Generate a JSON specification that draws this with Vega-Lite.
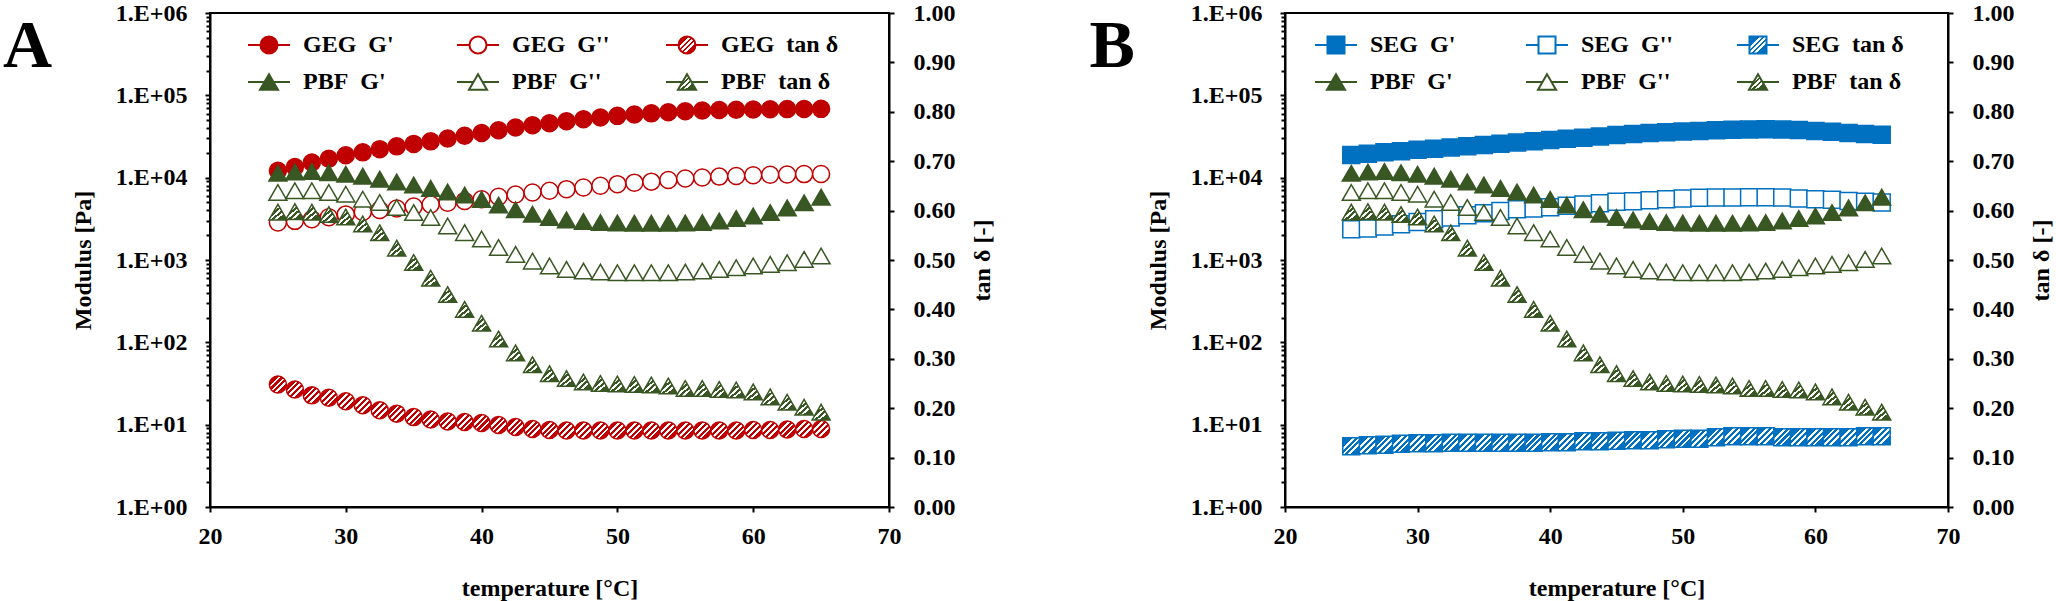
{
  "$schema": "https://vega.github.io/schema/vega-lite/v6.json",
  "background": "white",
  "padding": {"left": 2, "top": 0, "right": 0, "bottom": 0},
  "spacing": 93,
  "datasets": {
    "rheo": [
      {"t": 25, "GEG_G1": 12100, "GEG_G2": 2850, "GEG_T": 0.248, "PBF_G1": 11300, "PBF_G2": 6610, "PBF_T": 0.597, "SEG_G1": 18800, "SEG_G2": 2360, "SEG_T": 0.123},
      {"t": 26.25, "GEG_G1": 13500, "GEG_G2": 2990, "GEG_T": 0.238, "PBF_G1": 11700, "PBF_G2": 6930, "PBF_T": 0.598, "SEG_G1": 19500, "SEG_G2": 2405, "SEG_T": 0.125},
      {"t": 27.5, "GEG_G1": 15300, "GEG_G2": 3130, "GEG_T": 0.226, "PBF_G1": 11900, "PBF_G2": 6930, "PBF_T": 0.597, "SEG_G1": 20300, "SEG_G2": 2545, "SEG_T": 0.126},
      {"t": 28.75, "GEG_G1": 17000, "GEG_G2": 3300, "GEG_T": 0.221, "PBF_G1": 11500, "PBF_G2": 6610, "PBF_T": 0.592, "SEG_G1": 21000, "SEG_G2": 2720, "SEG_T": 0.128},
      {"t": 30, "GEG_G1": 18700, "GEG_G2": 3580, "GEG_T": 0.214, "PBF_G1": 11000, "PBF_G2": 6300, "PBF_T": 0.587, "SEG_G1": 21800, "SEG_G2": 2900, "SEG_T": 0.129},
      {"t": 31.25, "GEG_G1": 20300, "GEG_G2": 3830, "GEG_T": 0.206, "PBF_G1": 10450, "PBF_G2": 5480, "PBF_T": 0.573, "SEG_G1": 22500, "SEG_G2": 3125, "SEG_T": 0.129},
      {"t": 32.5, "GEG_G1": 22200, "GEG_G2": 4050, "GEG_T": 0.196, "PBF_G1": 9600, "PBF_G2": 4990, "PBF_T": 0.555, "SEG_G1": 23300, "SEG_G2": 3275, "SEG_T": 0.130},
      {"t": 33.75, "GEG_G1": 24000, "GEG_G2": 4230, "GEG_T": 0.189, "PBF_G1": 8850, "PBF_G2": 4340, "PBF_T": 0.524, "SEG_G1": 24100, "SEG_G2": 3500, "SEG_T": 0.130},
      {"t": 35, "GEG_G1": 25700, "GEG_G2": 4460, "GEG_T": 0.182, "PBF_G1": 8150, "PBF_G2": 3770, "PBF_T": 0.495, "SEG_G1": 24900, "SEG_G2": 3700, "SEG_T": 0.130},
      {"t": 36.25, "GEG_G1": 27600, "GEG_G2": 4720, "GEG_T": 0.177, "PBF_G1": 7420, "PBF_G2": 3280, "PBF_T": 0.463, "SEG_G1": 25800, "SEG_G2": 3950, "SEG_T": 0.130},
      {"t": 37.5, "GEG_G1": 29900, "GEG_G2": 4950, "GEG_T": 0.173, "PBF_G1": 6700, "PBF_G2": 2590, "PBF_T": 0.430, "SEG_G1": 26800, "SEG_G2": 4140, "SEG_T": 0.130},
      {"t": 38.75, "GEG_G1": 32300, "GEG_G2": 5200, "GEG_T": 0.172, "PBF_G1": 6150, "PBF_G2": 2150, "PBF_T": 0.400, "SEG_G1": 27700, "SEG_G2": 4220, "SEG_T": 0.130},
      {"t": 40, "GEG_G1": 34900, "GEG_G2": 5480, "GEG_T": 0.170, "PBF_G1": 5450, "PBF_G2": 1800, "PBF_T": 0.372, "SEG_G1": 28700, "SEG_G2": 4380, "SEG_T": 0.131},
      {"t": 41.25, "GEG_G1": 37700, "GEG_G2": 5870, "GEG_T": 0.166, "PBF_G1": 4650, "PBF_G2": 1420, "PBF_T": 0.340, "SEG_G1": 29600, "SEG_G2": 4545, "SEG_T": 0.131},
      {"t": 42.5, "GEG_G1": 40600, "GEG_G2": 6250, "GEG_T": 0.162, "PBF_G1": 4080, "PBF_G2": 1170, "PBF_T": 0.312, "SEG_G1": 30500, "SEG_G2": 4720, "SEG_T": 0.133},
      {"t": 43.75, "GEG_G1": 43300, "GEG_G2": 6600, "GEG_T": 0.158, "PBF_G1": 3600, "PBF_G2": 970, "PBF_T": 0.288, "SEG_G1": 31600, "SEG_G2": 4900, "SEG_T": 0.133},
      {"t": 45, "GEG_G1": 45900, "GEG_G2": 6930, "GEG_T": 0.156, "PBF_G1": 3280, "PBF_G2": 845, "PBF_T": 0.270, "SEG_G1": 33000, "SEG_G2": 5085, "SEG_T": 0.134},
      {"t": 46.25, "GEG_G1": 48400, "GEG_G2": 7250, "GEG_T": 0.155, "PBF_G1": 3070, "PBF_G2": 770, "PBF_T": 0.260, "SEG_G1": 33900, "SEG_G2": 5180, "SEG_T": 0.135},
      {"t": 47.5, "GEG_G1": 51200, "GEG_G2": 7600, "GEG_T": 0.155, "PBF_G1": 2940, "PBF_G2": 734, "PBF_T": 0.253, "SEG_G1": 34800, "SEG_G2": 5330, "SEG_T": 0.135},
      {"t": 48.75, "GEG_G1": 53800, "GEG_G2": 7960, "GEG_T": 0.155, "PBF_G1": 2850, "PBF_G2": 714, "PBF_T": 0.250, "SEG_G1": 35600, "SEG_G2": 5480, "SEG_T": 0.137},
      {"t": 50, "GEG_G1": 56300, "GEG_G2": 8340, "GEG_T": 0.155, "PBF_G1": 2820, "PBF_G2": 700, "PBF_T": 0.249, "SEG_G1": 36300, "SEG_G2": 5580, "SEG_T": 0.138},
      {"t": 51.25, "GEG_G1": 58500, "GEG_G2": 8700, "GEG_T": 0.155, "PBF_G1": 2800, "PBF_G2": 700, "PBF_T": 0.248, "SEG_G1": 37000, "SEG_G2": 5690, "SEG_T": 0.138},
      {"t": 52.5, "GEG_G1": 60400, "GEG_G2": 8950, "GEG_T": 0.155, "PBF_G1": 2800, "PBF_G2": 700, "PBF_T": 0.247, "SEG_G1": 37600, "SEG_G2": 5740, "SEG_T": 0.141},
      {"t": 53.75, "GEG_G1": 62300, "GEG_G2": 9350, "GEG_T": 0.155, "PBF_G1": 2800, "PBF_G2": 700, "PBF_T": 0.245, "SEG_G1": 38100, "SEG_G2": 5740, "SEG_T": 0.143},
      {"t": 55, "GEG_G1": 64200, "GEG_G2": 9750, "GEG_T": 0.155, "PBF_G1": 2820, "PBF_G2": 714, "PBF_T": 0.240, "SEG_G1": 38500, "SEG_G2": 5800, "SEG_T": 0.143},
      {"t": 56.25, "GEG_G1": 65400, "GEG_G2": 10050, "GEG_T": 0.155, "PBF_G1": 2850, "PBF_G2": 734, "PBF_T": 0.240, "SEG_G1": 38600, "SEG_G2": 5800, "SEG_T": 0.143},
      {"t": 57.5, "GEG_G1": 66200, "GEG_G2": 10300, "GEG_T": 0.155, "PBF_G1": 2980, "PBF_G2": 769, "PBF_T": 0.238, "SEG_G1": 38400, "SEG_G2": 5740, "SEG_T": 0.141},
      {"t": 58.75, "GEG_G1": 66800, "GEG_G2": 10500, "GEG_T": 0.155, "PBF_G1": 3190, "PBF_G2": 806, "PBF_T": 0.237, "SEG_G1": 37800, "SEG_G2": 5580, "SEG_T": 0.141},
      {"t": 60, "GEG_G1": 67300, "GEG_G2": 10700, "GEG_T": 0.156, "PBF_G1": 3430, "PBF_G2": 845, "PBF_T": 0.233, "SEG_G1": 37000, "SEG_G2": 5480, "SEG_T": 0.141},
      {"t": 61.25, "GEG_G1": 67700, "GEG_G2": 10850, "GEG_T": 0.156, "PBF_G1": 3770, "PBF_G2": 885, "PBF_T": 0.223, "SEG_G1": 36000, "SEG_G2": 5380, "SEG_T": 0.141},
      {"t": 62.5, "GEG_G1": 68000, "GEG_G2": 10950, "GEG_T": 0.157, "PBF_G1": 4300, "PBF_G2": 927, "PBF_T": 0.212, "SEG_G1": 34800, "SEG_G2": 5220, "SEG_T": 0.141},
      {"t": 63.75, "GEG_G1": 68300, "GEG_G2": 11050, "GEG_T": 0.158, "PBF_G1": 4950, "PBF_G2": 1018, "PBF_T": 0.202, "SEG_G1": 34000, "SEG_G2": 5085, "SEG_T": 0.143},
      {"t": 65, "GEG_G1": 68500, "GEG_G2": 11100, "GEG_T": 0.158, "PBF_G1": 5800, "PBF_G2": 1117, "PBF_T": 0.192, "SEG_G1": 33300, "SEG_G2": 4990, "SEG_T": 0.143}
    ]
  },
  "config": {
    "font": "Liberation Serif",
    "view": {"stroke": "black", "strokeWidth": 2},
    "axis": {
      "grid": false,
      "domainColor": "black",
      "domainWidth": 2,
      "tickColor": "black",
      "tickWidth": 2,
      "tickSize": 5,
      "labelFont": "Liberation Serif",
      "labelFontSize": 24,
      "labelFontWeight": "bold",
      "labelColor": "black",
      "labelFlush": false,
      "labelOverlap": false,
      "titleFont": "Liberation Serif",
      "titleFontSize": 24,
      "titleFontWeight": "bold",
      "titleColor": "black"
    },
    "legend": {
      "orient": "none",
      "direction": "horizontal",
      "columns": 3,
      "gridAlign": "all",
      "rowPadding": 7,
      "clipHeight": 30,
      "symbolSize": 1764,
      "symbolStrokeWidth": 2,
      "symbolOpacity": 1,
      "labelFont": "Liberation Serif",
      "labelFontSize": 24,
      "labelFontWeight": "bold",
      "labelColor": "black",
      "labelOffset": 12,
      "labelLimit": 400,
      "padding": 0
    }
  },
  "resolve": {
    "scale": {"x": "independent", "y": "independent", "stroke": "independent", "fill": "independent", "shape": "independent"},
    "legend": {"stroke": "independent", "fill": "independent", "shape": "independent"}
  },
  "hconcat": [
    {
      "width": 679,
      "height": 494,
      "title": {"text": "A", "orient": "left", "angle": 0, "anchor": "end", "align": "right", "baseline": "top", "frame": "group", "offset": -30, "font": "Liberation Serif", "fontSize": 68, "fontWeight": "bold", "color": "black"},
      "data": {"name": "rheo"},
      "transform": [{"fold": ["GEG_G1", "GEG_G2", "GEG_T", "PBF_G1", "PBF_G2", "PBF_T"], "as": ["key", "val"]}],
      "encoding": {
        "x": {"field": "t", "type": "quantitative", "scale": {"domain": [20, 70], "nice": false},
          "axis": {"values": [20, 30, 40, 50, 60, 70], "format": "d", "title": "temperature [°C]", "labelPadding": 12, "titlePadding": 28}}
      },
      "layer": [
        {
          "transform": [{"filter": "false"}],
          "mark": {"type": "point", "filled": true, "size": 1764, "strokeWidth": 2, "opacity": 1},
          "encoding": {
            "shape": {"field": "key", "type": "nominal",
              "scale": {"domain": ["GEG_G1", "GEG_G2", "GEG_T", "PBF_G1", "PBF_G2", "PBF_T"],
                "range": [
                  "M-1,0H-0.405M0.405,0H1M0.405,0A0.405,0.405,0,1,1,-0.405,0A0.405,0.405,0,1,1,0.405,0Z",
                  "M-1,0H-0.405M0.405,0H1M0.405,0A0.405,0.405,0,1,1,-0.405,0A0.405,0.405,0,1,1,0.405,0Z",
                  "M-1,0H-0.405M0.405,0H1M0.405,0A0.405,0.405,0,1,1,-0.405,0A0.405,0.405,0,1,1,0.405,0Z",
                  "M-1,0H-0.214M0.214,0H1M0,-0.371L0.429,0.371L-0.429,0.371Z",
                  "M-1,0H-0.214M0.214,0H1M0,-0.371L0.429,0.371L-0.429,0.371Z",
                  "M-1,0H-0.214M0.214,0H1M0,-0.371L0.429,0.371L-0.429,0.371Z"]},
              "legend": {"title": null, "legendX": 37, "legendY": 17, "columnPadding": 35,
                "labelExpr": "slice(datum.value,0,3) + '\u00a0 ' + (slice(datum.value,4) === 'G1' ? \"G'\" : slice(datum.value,4) === 'G2' ? \"G''\" : 'tan δ')"}},
            "fill": {"field": "key", "type": "nominal",
              "scale": {"domain": ["GEG_G1", "GEG_G2", "GEG_T", "PBF_G1", "PBF_G2", "PBF_T"],
                "range": [
                  "#c00000",
                  "white",
                  {"expr": "{'gradient':'linear','x1':0.2,'y1':0.38,'x2':0.8,'y2':0.62,'stops':[{'offset':0,'color':'#c00000'},{'offset':0.28,'color':'#c00000'},{'offset':0.28,'color':'white'},{'offset':0.37,'color':'white'},{'offset':0.37,'color':'#c00000'},{'offset':0.455,'color':'#c00000'},{'offset':0.455,'color':'white'},{'offset':0.545,'color':'white'},{'offset':0.545,'color':'#c00000'},{'offset':0.63,'color':'#c00000'},{'offset':0.63,'color':'white'},{'offset':0.72,'color':'white'},{'offset':0.72,'color':'#c00000'},{'offset':1,'color':'#c00000'}]}"},
                  "#385723",
                  "white",
                  {"expr": "{'gradient':'linear','x1':0.2,'y1':0.38,'x2':0.8,'y2':0.62,'stops':[{'offset':0,'color':'#385723'},{'offset':0.28,'color':'#385723'},{'offset':0.28,'color':'white'},{'offset':0.37,'color':'white'},{'offset':0.37,'color':'#385723'},{'offset':0.455,'color':'#385723'},{'offset':0.455,'color':'white'},{'offset':0.545,'color':'white'},{'offset':0.545,'color':'#385723'},{'offset':0.63,'color':'#385723'},{'offset':0.63,'color':'white'},{'offset':0.72,'color':'white'},{'offset':0.72,'color':'#385723'},{'offset':1,'color':'#385723'}]}"}]},
              "legend": {"title": null, "legendX": 37, "legendY": 17, "columnPadding": 35,
                "labelExpr": "slice(datum.value,0,3) + '\u00a0 ' + (slice(datum.value,4) === 'G1' ? \"G'\" : slice(datum.value,4) === 'G2' ? \"G''\" : 'tan δ')"}},
            "stroke": {"field": "key", "type": "nominal",
              "scale": {"domain": ["GEG_G1", "GEG_G2", "GEG_T", "PBF_G1", "PBF_G2", "PBF_T"], "range": ["#c00000", "#c00000", "#c00000", "#385723", "#385723", "#385723"]},
              "legend": {"title": null, "legendX": 37, "legendY": 17, "columnPadding": 35,
                "labelExpr": "slice(datum.value,0,3) + '\u00a0 ' + (slice(datum.value,4) === 'G1' ? \"G'\" : slice(datum.value,4) === 'G2' ? \"G''\" : 'tan δ')"}}
          }
        },
        {
          "transform": [{"filter": "datum.key === 'GEG_G1'"}],
          "mark": {"type": "point", "shape": "circle", "size": 289, "filled": true, "fill": "#c00000", "stroke": "#c00000", "strokeWidth": 1.5, "opacity": 1},
          "encoding": {"y": {"field": "val", "type": "quantitative", "scale": {"type": "log", "domain": [1, 1000000], "nice": false},
            "axis": {"orient": "left", "values": [1, 10, 100, 1000, 10000, 100000, 1000000], "labelExpr": "'1.E+0' + format(log(datum.value) / LN10, '.0f')", "title": "Modulus [Pa]", "labelPadding": 18, "titlePadding": 20}}}
        },
        {
          "transform": [{"filter": "datum.key === 'GEG_G2'"}],
          "mark": {"type": "point", "shape": "circle", "size": 289, "filled": true, "fill": "white", "stroke": "#c00000", "strokeWidth": 1.5, "opacity": 1},
          "encoding": {"y": {"field": "val", "type": "quantitative", "scale": {"type": "log", "domain": [1, 1000000], "nice": false},
            "axis": {"orient": "left", "values": [2, 3, 4, 5, 6, 7, 8, 9, 20, 30, 40, 50, 60, 70, 80, 90, 200, 300, 400, 500, 600, 700, 800, 900, 2000, 3000, 4000, 5000, 6000, 7000, 8000, 9000, 20000, 30000, 40000, 50000, 60000, 70000, 80000, 90000, 200000, 300000, 400000, 500000, 600000, 700000, 800000, 900000], "labels": false, "domain": false, "title": null, "tickSize": 4}}}
        },
        {
          "transform": [{"filter": "datum.key === 'GEG_T'"}],
          "mark": {"type": "point", "shape": "circle", "size": 289, "filled": true, "stroke": "#c00000", "strokeWidth": 1.5, "opacity": 1,
            "fill": {"gradient": "linear", "x1": 0, "y1": 0, "x2": 1, "y2": 1, "stops": [
              {"offset": 0, "color": "#c00000"}, {"offset": 0.29, "color": "#c00000"}, {"offset": 0.29, "color": "white"}, {"offset": 0.37, "color": "white"},
              {"offset": 0.37, "color": "#c00000"}, {"offset": 0.46, "color": "#c00000"}, {"offset": 0.46, "color": "white"}, {"offset": 0.54, "color": "white"},
              {"offset": 0.54, "color": "#c00000"}, {"offset": 0.63, "color": "#c00000"}, {"offset": 0.63, "color": "white"}, {"offset": 0.71, "color": "white"},
              {"offset": 0.71, "color": "#c00000"}, {"offset": 1, "color": "#c00000"}]}},
          "encoding": {"y": {"field": "val", "type": "quantitative", "scale": {"domain": [0, 1], "nice": false, "zero": true},
            "axis": {"orient": "right", "values": [0, 0.1, 0.2, 0.3, 0.4, 0.5, 0.6, 0.7, 0.8, 0.9, 1], "format": ".2f", "title": "tan δ [-]", "titleAngle": 270, "titleBaseline": "top", "labelPadding": 19, "titlePadding": 15}}}
        },
        {
          "transform": [{"filter": "datum.key === 'PBF_G1'"}],
          "mark": {"type": "point", "shape": "triangle-up", "size": 324, "filled": true, "fill": "#385723", "stroke": "#385723", "strokeWidth": 1.5, "opacity": 1},
          "encoding": {"y": {"field": "val", "type": "quantitative", "scale": {"type": "log", "domain": [1, 1000000], "nice": false}, "axis": null}}
        },
        {
          "transform": [{"filter": "datum.key === 'PBF_G2'"}],
          "mark": {"type": "point", "shape": "triangle-up", "size": 324, "filled": true, "fill": "white", "stroke": "#385723", "strokeWidth": 1.5, "opacity": 1},
          "encoding": {"y": {"field": "val", "type": "quantitative", "scale": {"type": "log", "domain": [1, 1000000], "nice": false}, "axis": null}}
        },
        {
          "transform": [{"filter": "datum.key === 'PBF_T'"}],
          "mark": {"type": "point", "shape": "triangle-up", "size": 324, "filled": true, "stroke": "#385723", "strokeWidth": 1.5, "opacity": 1,
            "fill": {"gradient": "linear", "x1": 0, "y1": 0, "x2": 1, "y2": 1, "stops": [
              {"offset": 0, "color": "#385723"}, {"offset": 0.29, "color": "#385723"}, {"offset": 0.29, "color": "white"}, {"offset": 0.37, "color": "white"},
              {"offset": 0.37, "color": "#385723"}, {"offset": 0.46, "color": "#385723"}, {"offset": 0.46, "color": "white"}, {"offset": 0.54, "color": "white"},
              {"offset": 0.54, "color": "#385723"}, {"offset": 0.63, "color": "#385723"}, {"offset": 0.63, "color": "white"}, {"offset": 0.71, "color": "white"},
              {"offset": 0.71, "color": "#385723"}, {"offset": 1, "color": "#385723"}]}},
          "encoding": {"y": {"field": "val", "type": "quantitative", "scale": {"domain": [0, 1], "nice": false, "zero": true}, "axis": null}}
        }
      ],
      "resolve": {"scale": {"y": "independent"}}
    },
    {
      "width": 663,
      "height": 494,
      "title": {"text": "B", "orient": "left", "angle": 0, "anchor": "end", "align": "right", "baseline": "top", "frame": "group", "offset": -34, "font": "Liberation Serif", "fontSize": 68, "fontWeight": "bold", "color": "black"},
      "data": {"name": "rheo"},
      "transform": [{"fold": ["SEG_G1", "SEG_G2", "SEG_T", "PBF_G1", "PBF_G2", "PBF_T"], "as": ["key", "val"]}],
      "encoding": {
        "x": {"field": "t", "type": "quantitative", "scale": {"domain": [20, 70], "nice": false},
          "axis": {"values": [20, 30, 40, 50, 60, 70], "format": "d", "title": "temperature [°C]", "labelPadding": 12, "titlePadding": 28}}
      },
      "layer": [
        {
          "transform": [{"filter": "false"}],
          "mark": {"type": "point", "filled": true, "size": 1764, "strokeWidth": 2, "opacity": 1},
          "encoding": {
            "shape": {"field": "key", "type": "nominal",
              "scale": {"domain": ["SEG_G1", "SEG_G2", "SEG_T", "PBF_G1", "PBF_G2", "PBF_T"],
                "range": [
                  "M-1,0H-0.405M0.405,0H1M-0.405,-0.405H0.405V0.405H-0.405Z",
                  "M-1,0H-0.405M0.405,0H1M-0.405,-0.405H0.405V0.405H-0.405Z",
                  "M-1,0H-0.405M0.405,0H1M-0.405,-0.405H0.405V0.405H-0.405Z",
                  "M-1,0H-0.214M0.214,0H1M0,-0.371L0.429,0.371L-0.429,0.371Z",
                  "M-1,0H-0.214M0.214,0H1M0,-0.371L0.429,0.371L-0.429,0.371Z",
                  "M-1,0H-0.214M0.214,0H1M0,-0.371L0.429,0.371L-0.429,0.371Z"]},
              "legend": {"title": null, "legendX": 29, "legendY": 17, "columnPadding": 43,
                "labelExpr": "slice(datum.value,0,3) + '\u00a0 ' + (slice(datum.value,4) === 'G1' ? \"G'\" : slice(datum.value,4) === 'G2' ? \"G''\" : 'tan δ')"}},
            "fill": {"field": "key", "type": "nominal",
              "scale": {"domain": ["SEG_G1", "SEG_G2", "SEG_T", "PBF_G1", "PBF_G2", "PBF_T"],
                "range": [
                  "#0070c0",
                  "white",
                  {"expr": "{'gradient':'linear','x1':0.2,'y1':0.38,'x2':0.8,'y2':0.62,'stops':[{'offset':0,'color':'#0070c0'},{'offset':0.28,'color':'#0070c0'},{'offset':0.28,'color':'white'},{'offset':0.37,'color':'white'},{'offset':0.37,'color':'#0070c0'},{'offset':0.455,'color':'#0070c0'},{'offset':0.455,'color':'white'},{'offset':0.545,'color':'white'},{'offset':0.545,'color':'#0070c0'},{'offset':0.63,'color':'#0070c0'},{'offset':0.63,'color':'white'},{'offset':0.72,'color':'white'},{'offset':0.72,'color':'#0070c0'},{'offset':1,'color':'#0070c0'}]}"},
                  "#385723",
                  "white",
                  {"expr": "{'gradient':'linear','x1':0.2,'y1':0.38,'x2':0.8,'y2':0.62,'stops':[{'offset':0,'color':'#385723'},{'offset':0.28,'color':'#385723'},{'offset':0.28,'color':'white'},{'offset':0.37,'color':'white'},{'offset':0.37,'color':'#385723'},{'offset':0.455,'color':'#385723'},{'offset':0.455,'color':'white'},{'offset':0.545,'color':'white'},{'offset':0.545,'color':'#385723'},{'offset':0.63,'color':'#385723'},{'offset':0.63,'color':'white'},{'offset':0.72,'color':'white'},{'offset':0.72,'color':'#385723'},{'offset':1,'color':'#385723'}]}"}]},
              "legend": {"title": null, "legendX": 29, "legendY": 17, "columnPadding": 43,
                "labelExpr": "slice(datum.value,0,3) + '\u00a0 ' + (slice(datum.value,4) === 'G1' ? \"G'\" : slice(datum.value,4) === 'G2' ? \"G''\" : 'tan δ')"}},
            "stroke": {"field": "key", "type": "nominal",
              "scale": {"domain": ["SEG_G1", "SEG_G2", "SEG_T", "PBF_G1", "PBF_G2", "PBF_T"], "range": ["#0070c0", "#0070c0", "#0070c0", "#385723", "#385723", "#385723"]},
              "legend": {"title": null, "legendX": 29, "legendY": 17, "columnPadding": 43,
                "labelExpr": "slice(datum.value,0,3) + '\u00a0 ' + (slice(datum.value,4) === 'G1' ? \"G'\" : slice(datum.value,4) === 'G2' ? \"G''\" : 'tan δ')"}}
          }
        },
        {
          "transform": [{"filter": "datum.key === 'SEG_G1'"}],
          "mark": {"type": "point", "shape": "square", "size": 289, "filled": true, "fill": "#0070c0", "stroke": "#0070c0", "strokeWidth": 1.5, "opacity": 1},
          "encoding": {"y": {"field": "val", "type": "quantitative", "scale": {"type": "log", "domain": [1, 1000000], "nice": false},
            "axis": {"orient": "left", "values": [1, 10, 100, 1000, 10000, 100000, 1000000], "labelExpr": "'1.E+0' + format(log(datum.value) / LN10, '.0f')", "title": "Modulus [Pa]", "labelPadding": 18, "titlePadding": 20}}}
        },
        {
          "transform": [{"filter": "datum.key === 'SEG_G2'"}],
          "mark": {"type": "point", "shape": "square", "size": 289, "filled": true, "fill": "white", "stroke": "#0070c0", "strokeWidth": 1.5, "opacity": 1},
          "encoding": {"y": {"field": "val", "type": "quantitative", "scale": {"type": "log", "domain": [1, 1000000], "nice": false},
            "axis": {"orient": "left", "values": [2, 3, 4, 5, 6, 7, 8, 9, 20, 30, 40, 50, 60, 70, 80, 90, 200, 300, 400, 500, 600, 700, 800, 900, 2000, 3000, 4000, 5000, 6000, 7000, 8000, 9000, 20000, 30000, 40000, 50000, 60000, 70000, 80000, 90000, 200000, 300000, 400000, 500000, 600000, 700000, 800000, 900000], "labels": false, "domain": false, "title": null, "tickSize": 4}}}
        },
        {
          "transform": [{"filter": "datum.key === 'SEG_T'"}],
          "mark": {"type": "point", "shape": "square", "size": 289, "filled": true, "stroke": "#0070c0", "strokeWidth": 1.5, "opacity": 1,
            "fill": {"gradient": "linear", "x1": 0, "y1": 0, "x2": 1, "y2": 1, "stops": [
              {"offset": 0, "color": "#0070c0"}, {"offset": 0.29, "color": "#0070c0"}, {"offset": 0.29, "color": "white"}, {"offset": 0.37, "color": "white"},
              {"offset": 0.37, "color": "#0070c0"}, {"offset": 0.46, "color": "#0070c0"}, {"offset": 0.46, "color": "white"}, {"offset": 0.54, "color": "white"},
              {"offset": 0.54, "color": "#0070c0"}, {"offset": 0.63, "color": "#0070c0"}, {"offset": 0.63, "color": "white"}, {"offset": 0.71, "color": "white"},
              {"offset": 0.71, "color": "#0070c0"}, {"offset": 1, "color": "#0070c0"}]}},
          "encoding": {"y": {"field": "val", "type": "quantitative", "scale": {"domain": [0, 1], "nice": false, "zero": true},
            "axis": {"orient": "right", "values": [0, 0.1, 0.2, 0.3, 0.4, 0.5, 0.6, 0.7, 0.8, 0.9, 1], "format": ".2f", "title": "tan δ [-]", "titleAngle": 270, "titleBaseline": "top", "labelPadding": 19, "titlePadding": 15}}}
        },
        {
          "transform": [{"filter": "datum.key === 'PBF_G1'"}],
          "mark": {"type": "point", "shape": "triangle-up", "size": 324, "filled": true, "fill": "#385723", "stroke": "#385723", "strokeWidth": 1.5, "opacity": 1},
          "encoding": {"y": {"field": "val", "type": "quantitative", "scale": {"type": "log", "domain": [1, 1000000], "nice": false}, "axis": null}}
        },
        {
          "transform": [{"filter": "datum.key === 'PBF_G2'"}],
          "mark": {"type": "point", "shape": "triangle-up", "size": 324, "filled": true, "fill": "white", "stroke": "#385723", "strokeWidth": 1.5, "opacity": 1},
          "encoding": {"y": {"field": "val", "type": "quantitative", "scale": {"type": "log", "domain": [1, 1000000], "nice": false}, "axis": null}}
        },
        {
          "transform": [{"filter": "datum.key === 'PBF_T'"}],
          "mark": {"type": "point", "shape": "triangle-up", "size": 324, "filled": true, "stroke": "#385723", "strokeWidth": 1.5, "opacity": 1,
            "fill": {"gradient": "linear", "x1": 0, "y1": 0, "x2": 1, "y2": 1, "stops": [
              {"offset": 0, "color": "#385723"}, {"offset": 0.29, "color": "#385723"}, {"offset": 0.29, "color": "white"}, {"offset": 0.37, "color": "white"},
              {"offset": 0.37, "color": "#385723"}, {"offset": 0.46, "color": "#385723"}, {"offset": 0.46, "color": "white"}, {"offset": 0.54, "color": "white"},
              {"offset": 0.54, "color": "#385723"}, {"offset": 0.63, "color": "#385723"}, {"offset": 0.63, "color": "white"}, {"offset": 0.71, "color": "white"},
              {"offset": 0.71, "color": "#385723"}, {"offset": 1, "color": "#385723"}]}},
          "encoding": {"y": {"field": "val", "type": "quantitative", "scale": {"domain": [0, 1], "nice": false, "zero": true}, "axis": null}}
        }
      ],
      "resolve": {"scale": {"y": "independent"}}
    }
  ]
}
